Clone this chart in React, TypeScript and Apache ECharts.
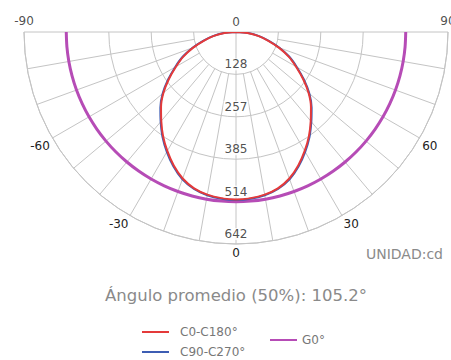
import React, { useEffect, useRef } from 'react';
import * as echarts from 'echarts';

// ---- data ----
const angles = [-90, -85, -80, -75, -70, -65, -60, -55, -50, -45, -40, -35, -30, -25, -20, -15, -10, -5, 0, 5, 10, 15, 20, 25, 30, 35, 40, 45, 50, 55, 60, 65, 70, 75, 80, 85, 90];
const c0c180 = [0, 35, 68, 100, 138, 176, 210, 248, 287, 321, 352, 385, 416, 446, 472, 490, 500, 505, 507, 505, 500, 490, 472, 446, 416, 385, 352, 321, 287, 248, 210, 176, 138, 100, 68, 35, 0];
const c90c270 = [0, 37, 71, 103, 141, 179, 213, 251, 290, 324, 355, 388, 419, 449, 475, 492, 502, 507, 509, 507, 502, 492, 475, 449, 419, 388, 355, 324, 290, 251, 213, 179, 141, 103, 71, 37, 0];
const g0 = [514, 514, 514, 514, 514, 514, 514, 514, 514, 514, 514, 514, 514, 514, 514, 514, 514, 514, 514, 514, 514, 514, 514, 514, 514, 514, 514, 514, 514, 514, 514, 514, 514, 514, 514, 514, 514];

const seriesNames = ['C0-C180°', 'C90-C270°', 'G0°'];
const radialTicks = [0, 128.4, 256.8, 385.2, 513.6, 642];
const radialLabels = ['0', '128', '257', '385', '514', '642'];
const spokeAngles = [-90, -80, -70, -60, -50, -40, -30, -20, -10, 0, 10, 20, 30, 40, 50, 60, 70, 80, 90];
const sideAngles = [-90, 90];
const sideLabels = ['-90', '90'];
const unitText = 'UNIDAD:cd';
const titleText = 'Ángulo promedio (50%): 105.2°';

// ---- styles ----
const RMAX = 642;
const GRID = '#c4c4c4';
const RED = '#e43a3a';
const BLUE = '#3d5db3';
const PURPLE = '#b64cb6';
const FONT = '"DejaVu Sans", sans-serif';

export default function App() {
  const ref = useRef<HTMLDivElement>(null);
  useEffect(() => {
    if (!ref.current) return;
    const chart = echarts.init(ref.current, null, { renderer: 'svg' });
    const mk = (vals: number[]) => angles.map((a, i) => [vals[i], a]);
    const legendText = { fontSize: 12, color: '#777', fontFamily: FONT };
    const option: any = {
      animation: false,
      textStyle: { fontFamily: FONT },
      polar: { center: [236, 32], radius: 212 },
      angleAxis: {
        type: 'value', min: -90, max: 90, interval: 30, startAngle: 180, endAngle: 360, clockwise: false,
        axisLine: { lineStyle: { color: GRID, width: 1 } },
        axisTick: { show: false },
        axisLabel: {
          show: true, margin: 3, color: '#222', fontSize: 12, fontFamily: FONT,
          formatter: (v: number) => (Math.abs(v) === 90 ? '' : String(v)),
        },
        splitLine: { show: false },
      },
      radiusAxis: {
        type: 'value', min: 0, max: RMAX, interval: radialTicks[1],
        axisLine: { show: false }, axisTick: { show: false }, axisLabel: { show: false },
        splitLine: { show: true, lineStyle: { color: GRID, width: 1 } },
      },
      legend: [
        { left: 142, top: 326, padding: 0, itemWidth: 27, itemHeight: 2, icon: 'rect', data: [seriesNames[0]], textStyle: { ...legendText, padding: [0, 0, 0, 6] } },
        { left: 142, top: 346, padding: 0, itemWidth: 27, itemHeight: 2, icon: 'rect', data: [seriesNames[1]], textStyle: { ...legendText, padding: [0, 0, 0, 6] } },
        { left: 270, top: 334, padding: 0, itemWidth: 27, itemHeight: 2, icon: 'rect', data: [seriesNames[2]], textStyle: { ...legendText } },
      ],
      graphic: [
        { type: 'text', x: 236, y: 295, style: { text: titleText, align: 'center', verticalAlign: 'middle', fontSize: 16.5, fill: '#8a8a8a', fontFamily: FONT } },
        { type: 'text', x: 443, y: 254, style: { text: unitText, align: 'right', verticalAlign: 'middle', fontSize: 14, fill: '#8a8a8a', fontFamily: FONT } },
      ],
      series: [
        {
          type: 'custom', coordinateSystem: 'polar', silent: true, z: 1,
          data: spokeAngles.map((a) => [Math.abs(a) === 90 || a === 0 ? 0 : radialTicks[1], a]),
          renderItem: (params: any, api: any) => {
            const r0 = api.value(0);
            const a = api.value(1);
            const p0 = api.coord([r0, a]);
            const p1 = api.coord([RMAX, a]);
            return { type: 'line', shape: { x1: p0[0], y1: p0[1], x2: p1[0], y2: p1[1] }, style: { stroke: GRID, lineWidth: 1 } };
          },
        },
        { name: seriesNames[2], type: 'line', coordinateSystem: 'polar', data: mk(g0), symbol: 'none', smooth: 0.3, color: PURPLE, lineStyle: { width: 3, color: PURPLE }, z: 2 },
        { name: seriesNames[1], type: 'line', coordinateSystem: 'polar', data: mk(c90c270), symbol: 'none', smooth: 0.3, color: BLUE, lineStyle: { width: 2, color: BLUE }, z: 3 },
        { name: seriesNames[0], type: 'line', coordinateSystem: 'polar', data: mk(c0c180), symbol: 'none', smooth: 0.3, color: RED, lineStyle: { width: 2, color: RED }, z: 4 },
        {
          type: 'scatter', coordinateSystem: 'polar', symbolSize: 0, silent: true, z: 6,
          data: radialTicks.map((r, i) => ({ value: [r, 0], label: { formatter: radialLabels[i] } })),
          label: { show: true, position: 'top', distance: 4, color: '#222', fontSize: 12, fontFamily: FONT, backgroundColor: '#fff', padding: [0, 1] },
        },
        {
          type: 'scatter', coordinateSystem: 'polar', symbolSize: 0, silent: true, z: 6,
          data: sideAngles.map((a, i) => ({ value: [RMAX, a], label: { formatter: sideLabels[i] } })),
          label: { show: true, position: 'top', distance: 5, color: '#222', fontSize: 12, fontFamily: FONT },
        },
      ],
    };
    chart.setOption(option);
    return () => chart.dispose();
  }, []);
  return <div ref={ref} style={{ position: 'absolute', left: 0, top: 0, width: 451, height: 360 }} />;
}
